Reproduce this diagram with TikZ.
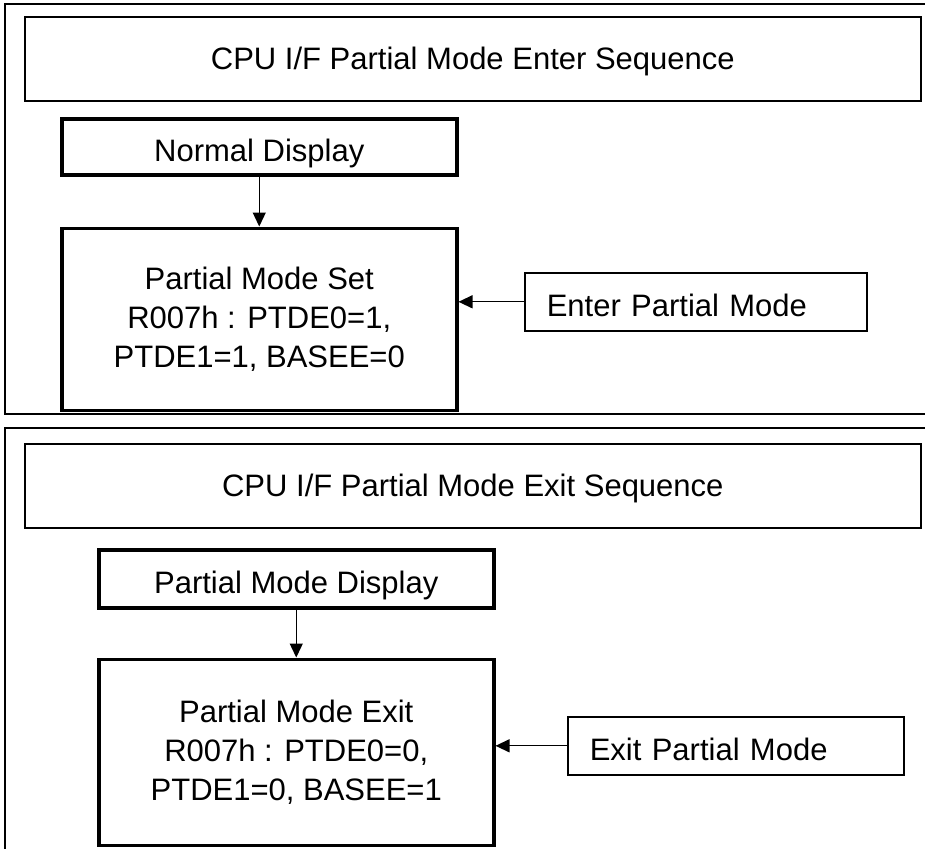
\documentclass[tikz,border=0pt]{standalone}
\usepackage{fontspec}
\setmainfont{Liberation Sans}
\usetikzlibrary{positioning,arrows.meta}

\begin{document}
\begin{tikzpicture}[
  x=1pt, y=-1pt,
  >={Triangle[length=14pt,width=13pt]},
  font=\fontsize{31}{39}\selectfont,
  frame/.style={draw,line width=1.2pt},
  titlebox/.style={draw,line width=1.6pt,minimum width=896pt,minimum height=84pt,
    text height=22pt,text depth=0pt,anchor=north west},
  stepbox/.style={draw,line width=3.5pt,minimum width=395pt,align=center},
  cmdbox/.style={draw,line width=1.6pt,minimum height=58pt,text height=30pt,
    text depth=0pt,inner xsep=22pt,align=left,anchor=north west},
  flow/.style={->,line width=1.3pt}
]
  \useasboundingbox (0,0) rectangle (925,849);

  % enter sequence
  \draw[frame] (925,4) -| (5,414) -- (925,414);
  \node[titlebox] (entertitle) at (24,16) {CPU I/F Partial Mode Enter Sequence};
  \node[stepbox,minimum height=56pt,text height=30pt,text depth=0pt,anchor=north west]
    (normal) at (60,117) {Normal Display};
  \node[stepbox,minimum height=182pt,below=50pt of normal] (modeset)
    {Partial Mode Set\\R007h : PTDE0=1,\\PTDE1=1, BASEE=0};
  \node[cmdbox,text width=298pt] (enter) at (524,272) {Enter Partial Mode};

  \draw[flow] (normal) -- (modeset);
  \draw[flow] (enter.west) -- (enter.west -| modeset.east);

  % exit sequence
  \draw[frame] (925,428) -| (5,849);
  \node[titlebox] (exittitle) at (24,443) {CPU I/F Partial Mode Exit Sequence};
  \node[stepbox,minimum height=58pt,text height=30pt,text depth=0pt,anchor=north west]
    (partial) at (97,548) {Partial Mode Display};
  \node[stepbox,minimum height=186pt,below=48pt of partial] (modeexit)
    {Partial Mode Exit\\R007h : PTDE0=0,\\PTDE1=0, BASEE=1};
  \node[cmdbox,text width=292pt] (exit) at (567,716) {Exit Partial Mode};

  \draw[flow] (partial) -- (modeexit);
  \draw[flow] (exit.west) -- (exit.west -| modeexit.east);
\end{tikzpicture}
\end{document}
